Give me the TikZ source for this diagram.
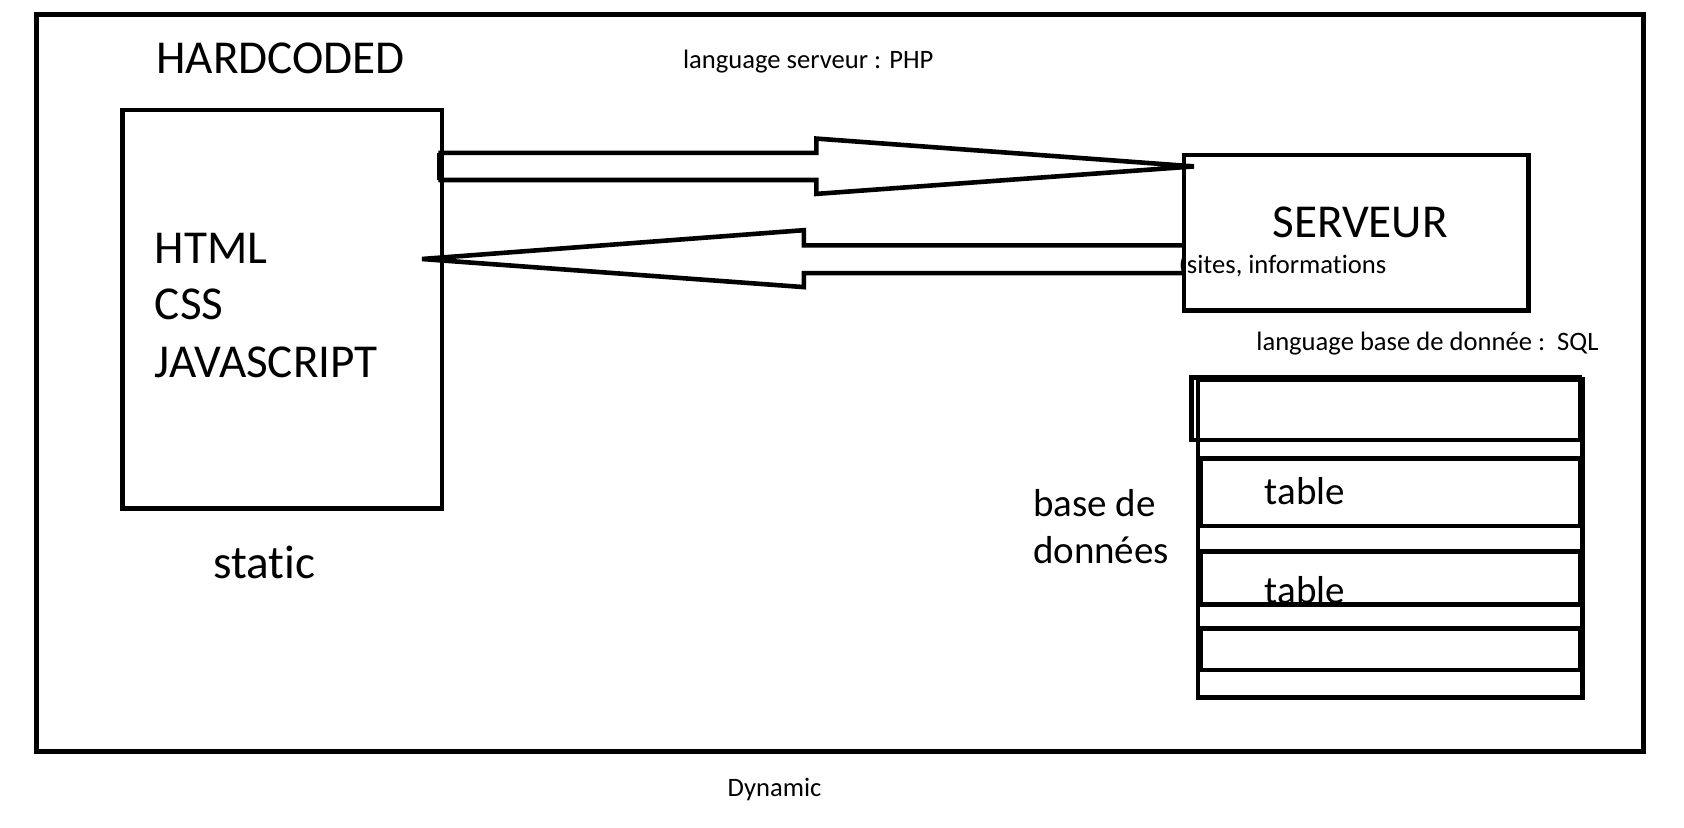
\documentclass[tikz,border=0pt]{standalone}
\usepackage{fontspec}
\setmainfont[Ligatures=NoCommon]{Carlito}
\tikzset{>=stealth}
\tikzset{
	trait/.style={line width=2.3pt},
	grand/.style={font=\fontsize{23.6}{27}\selectfont, inner sep=0pt, anchor=base west},
	moyen/.style={font=\fontsize{19.5}{23}\selectfont, inner sep=0pt, anchor=base west},
	petit/.style={font=\fontsize{13.3}{16}\selectfont, inner sep=0pt, anchor=base west}
}

\begin{document}
\begin{tikzpicture}[x=0.5pt, y=-0.5pt]
	\useasboundingbox (0,0) rectangle (1684,828);
	% textes
	\node[grand] (hardcoded) at (156,73.3) {HARDCODED};
	\node[petit] (php) at (682.7,68.3) {language serveur : PHP};
	\foreach \t/\y in {HTML/263.3, CSS/320, JAVASCRIPT/377.7}
	\node[grand] (\t) at (154.5,\y) {\t};
	\node[grand] (static) at (213,578.3) {static};
	\node[grand] (serveur) at (1272,237.3) {SERVEUR};
	\node[petit] (sites) at (1178.5,273.3) {(sites, informations};
	\node[petit] (sql) at (1256,350.7) {language base de donnée :\ \ SQL};
	\node[moyen] (base) at (1032.6,516.5) {base de};
	\node[moyen] (donnees) at (1032.6,563.7) {données};
	\node[moyen] (table1) at (1264.4,504.5) {table};
	\node[moyen] (table2) at (1264.4,603) {table};
	\node[petit] (dynamic) at (727.3,796) {Dynamic};
	% cadres
	\draw [trait, line width=2.5pt] (36.9,14.3) rectangle (1643,751.3);
	\draw [trait] (122.7,110) rectangle (442,508.3);
	\draw [trait] (1184,155) rectangle (1528.3,310.7);
	% fleches
	\draw [trait] (440.6,152.9) -- (816.4,152.9) -- (816.4,138.6) -- (1194,166.4)
		-- (816.4,193.9) -- (816.4,180) -- (440.6,180) -- cycle;
	\draw [line width=3.5pt] (440.6,152.9) -- (440.6,180);
	\draw [trait] (1184,245.4) -- (803.8,245.4) -- (803.8,230.2) -- (422,259)
		-- (803.8,287.1) -- (803.8,273.2) -- (1184,273.2);
	% base de donnees
	\draw [trait] (1191.3,377.2) rectangle (1580,439.9);
	\draw [trait] (1198,379.6) rectangle (1582.4,697.4);
	\foreach \h/\b in {458.5/526, 551.7/604.2, 628.6/670}
	\draw [trait] (1201,\h) rectangle (1580.5,\b);
\end{tikzpicture}
\end{document}
